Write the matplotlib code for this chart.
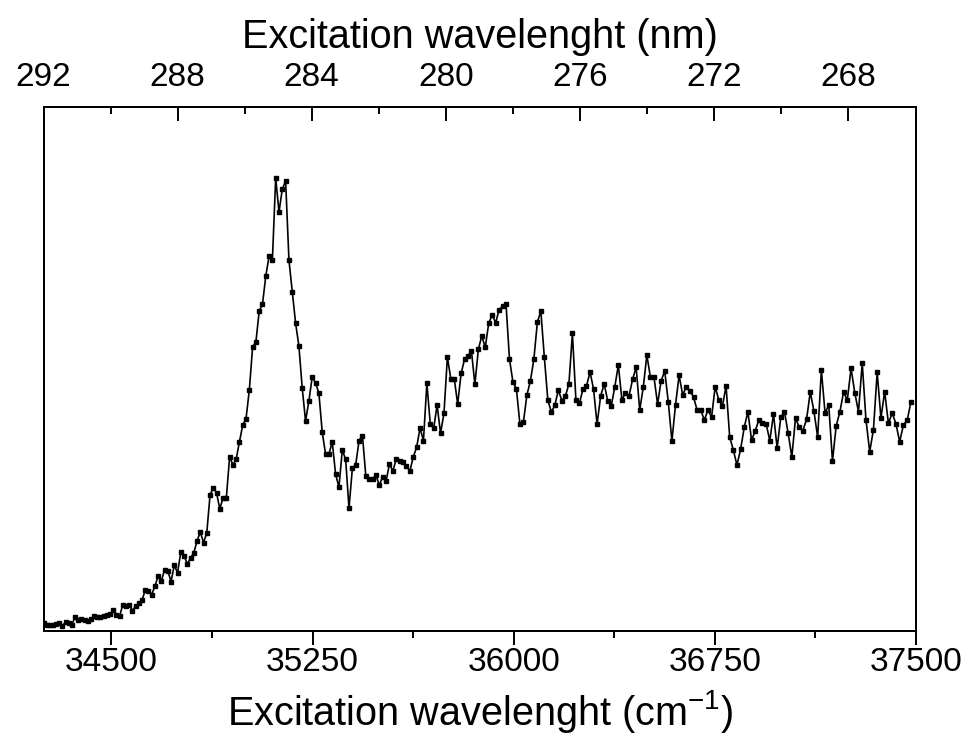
import matplotlib
matplotlib.use("Agg")
import matplotlib.pyplot as plt
from matplotlib.ticker import FixedLocator, NullFormatter

plt.rcParams['font.family'] = ['Liberation Sans', 'DejaVu Sans']
plt.rcParams['mathtext.fontset'] = 'custom'
plt.rcParams['mathtext.rm'] = 'Liberation Sans'
plt.rcParams['mathtext.default'] = 'regular'

# Excitation wavelength grid (nm), 0.1 nm steps as scanned
wavelength_nm = [
    292.0, 291.9, 291.8, 291.7, 291.6, 291.5, 291.4, 291.3, 291.2, 291.1,
    291.0, 290.9, 290.8, 290.7, 290.6, 290.5, 290.4, 290.3, 290.2, 290.1,
    290.0, 289.9, 289.8, 289.7, 289.6, 289.5, 289.4, 289.3, 289.2, 289.1,
    289.0, 288.9, 288.8, 288.7, 288.6, 288.5, 288.4, 288.3, 288.2, 288.1,
    288.0, 287.9, 287.8, 287.7, 287.6, 287.5, 287.4, 287.3, 287.2, 287.1,
    287.0, 286.9, 286.8, 286.7, 286.6, 286.5, 286.4, 286.3, 286.2, 286.1,
    286.0, 285.9, 285.8, 285.7, 285.6, 285.5, 285.4, 285.3, 285.2, 285.1,
    285.0, 284.9, 284.8, 284.7, 284.6, 284.5, 284.4, 284.3, 284.2, 284.1,
    284.0, 283.9, 283.8, 283.7, 283.6, 283.5, 283.4, 283.3, 283.2, 283.1,
    283.0, 282.9, 282.8, 282.7, 282.6, 282.5, 282.4, 282.3, 282.2, 282.1,
    282.0, 281.9, 281.8, 281.7, 281.6, 281.5, 281.4, 281.3, 281.2, 281.1,
    281.0, 280.9, 280.8, 280.7, 280.6, 280.5, 280.4, 280.3, 280.2, 280.1,
    280.0, 279.9, 279.8, 279.7, 279.6, 279.5, 279.4, 279.3, 279.2, 279.1,
    279.0, 278.9, 278.8, 278.7, 278.6, 278.5, 278.4, 278.3, 278.2, 278.1,
    278.0, 277.9, 277.8, 277.7, 277.6, 277.5, 277.4, 277.3, 277.2, 277.1,
    277.0, 276.9, 276.8, 276.7, 276.6, 276.5, 276.4, 276.3, 276.2, 276.1,
    276.0, 275.9, 275.8, 275.7, 275.6, 275.5, 275.4, 275.3, 275.2, 275.1,
    275.0, 274.9, 274.8, 274.7, 274.6, 274.5, 274.4, 274.3, 274.2, 274.1,
    274.0, 273.9, 273.8, 273.7, 273.6, 273.5, 273.4, 273.3, 273.2, 273.1,
    273.0, 272.9, 272.8, 272.7, 272.6, 272.5, 272.4, 272.3, 272.2, 272.1,
    272.0, 271.9, 271.8, 271.7, 271.6, 271.5, 271.4, 271.3, 271.2, 271.1,
    271.0, 270.9, 270.8, 270.7, 270.6, 270.5, 270.4, 270.3, 270.2, 270.1,
    270.0, 269.9, 269.8, 269.7, 269.6, 269.5, 269.4, 269.3, 269.2, 269.1,
    269.0, 268.9, 268.8, 268.7, 268.6, 268.5, 268.4, 268.3, 268.2, 268.1,
    268.0, 267.9, 267.8, 267.7, 267.6, 267.5, 267.4, 267.3, 267.2, 267.1,
    267.0, 266.9, 266.8,
]

# Intensity (arbitrary units)
intensity = [
    7.5, 5.5, 6.0, 5.5, 6.5, 7.5, 4.5, 8.5, 7.5, 6.0,
    13.5, 11.0, 11.5, 10.5, 9.5, 11.5, 14.5, 13.5, 14.0, 15.0,
    16.0, 16.5, 20.5, 16.0, 14.5, 26.0, 24.5, 25.5, 20.0, 24.5,
    27.5, 30.5, 40.5, 40.0, 36.0, 44.5, 54.5, 49.5, 61.0, 59.5,
    49.0, 65.5, 57.5, 78.5, 75.0, 66.5, 72.5, 77.5, 89.5, 98.5,
    88.0, 97.5, 135.5, 143.0, 137.5, 121.5, 133.0, 133.0, 174.0, 165.5,
    171.5, 189.0, 205.5, 212.0, 240.5, 283.5, 288.5, 319.5, 326.5, 354.5,
    374.5, 370.5, 452.5, 418.5, 441.5, 449.5, 370.5, 338.5, 307.5, 284.5,
    242.5, 209.5, 229.5, 253.5, 247.5, 237.5, 198.5, 176.5, 176.5, 188.5,
    156.5, 143.2, 180.5, 171.2, 122.2, 162.2, 166.0, 190.0, 195.0, 154.5,
    151.8, 151.2, 155.5, 145.2, 154.0, 149.5, 166.5, 159.5, 171.5, 169.5,
    168.5, 165.0, 159.2, 173.5, 183.2, 202.5, 190.0, 247.2, 206.5, 202.3,
    225.5, 197.2, 217.2, 273.5, 251.7, 251.7, 226.5, 257.2, 271.2, 275.0,
    279.5, 246.2, 281.2, 294.5, 283.2, 307.2, 315.5, 307.8, 320.5, 324.5,
    326.5, 271.2, 248.5, 241.5, 206.2, 208.2, 235.5, 249.5, 271.2, 308.2,
    319.5, 273.2, 230.5, 218.5, 225.2, 240.5, 229.8, 234.5, 246.2, 297.2,
    230.5, 227.2, 241.5, 244.5, 258.5, 241.5, 206.2, 234.5, 246.5, 229.8,
    224.5, 243.8, 265.5, 230.5, 237.8, 234.5, 251.2, 263.2, 220.5, 243.2,
    275.5, 253.2, 253.2, 226.5, 249.8, 259.5, 228.2, 189.5, 225.5, 255.2,
    235.5, 243.8, 239.8, 233.5, 220.5, 220.5, 210.5, 220.5, 213.5, 243.8,
    230.5, 224.5, 244.5, 193.5, 180.5, 165.5, 181.2, 203.2, 218.8, 190.5,
    199.5, 210.5, 207.8, 206.5, 189.8, 216.5, 182.5, 213.5, 218.8, 197.2,
    173.5, 212.5, 203.2, 199.8, 211.2, 238.5, 219.3, 193.5, 260.5, 217.5,
    225.3, 169.5, 204.5, 218.8, 238.5, 230.5, 262.2, 237.8, 218.8, 267.5,
    210.8, 178.8, 200.8, 258.2, 212.5, 238.8, 207.2, 217.5, 206.8, 188.8,
    205.5, 210.2, 228.8,
]

bottom_major_ticks = [34500, 35250, 36000, 36750, 37500]
bottom_minor_ticks = [34875, 35625, 36375, 37125]
top_major_ticks = [292, 288, 284, 280, 276, 272, 268]
top_minor_ticks = [290, 286, 282, 278, 274, 270]

wavenumber = [1e7 / w for w in wavelength_nm]

fig = plt.figure(figsize=(9.78, 7.5), dpi=100)
ax = fig.add_axes([0.0445, 0.1593, 0.8921, 0.698])

ax.plot(wavenumber, intensity, color='black', linewidth=1.2,
        marker='s', markersize=3.2, markerfacecolor='black',
        markeredgecolor='black')

x_left = 1e7 / 292.0
ax.set_xlim(x_left, 37500)
ax.set_ylim(0, 523.5)

for s in ax.spines.values():
    s.set_linewidth(1.4)

ax.set_yticks([])
ax.xaxis.set_major_locator(FixedLocator(bottom_major_ticks))
ax.xaxis.set_minor_locator(FixedLocator(bottom_minor_ticks))
ax.tick_params(axis='x', which='major', direction='out', length=10, width=1.4,
               labelsize=24, pad=2, top=False)
ax.tick_params(axis='x', which='minor', direction='out', length=5, width=1.4, top=False)
ax.set_xlabel(r'Excitation wavelenght (cm$^{-1}$)', fontsize=28.5, labelpad=7)

ax2 = ax.twiny()
ax2.set_xlim(292, 265.97)
ax2.xaxis.set_major_locator(FixedLocator(top_major_ticks))
ax2.xaxis.set_minor_locator(FixedLocator(top_minor_ticks))
ax2.xaxis.set_minor_formatter(NullFormatter())
ax2.tick_params(axis='x', which='major', direction='in', length=10, width=1.4,
                labelsize=24, pad=10)
ax2.tick_params(axis='x', which='minor', direction='in', length=5, width=1.4)
ax2.set_xlabel('Excitation wavelenght (nm)', fontsize=28.5, labelpad=10)
for s in ax2.spines.values():
    s.set_linewidth(1.4)

fig.savefig('out.png', dpi=100)
